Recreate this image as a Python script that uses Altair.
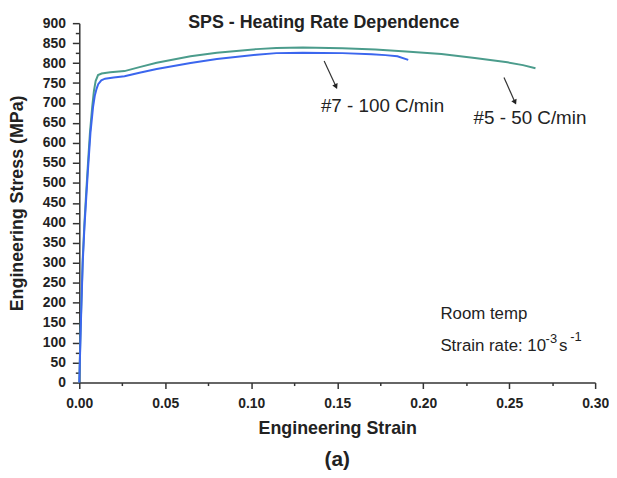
import altair as alt
import pandas as pd

# ---- data ----
strain_g = [0, 0.0005, 0.001, 0.002, 0.003, 0.004, 0.005, 0.0062, 0.0075, 0.0085, 0.0095, 0.0109,
            0.013, 0.018, 0.0263, 0.035, 0.045, 0.0647, 0.08, 0.1031, 0.1146, 0.13, 0.153, 0.1722,
            0.19, 0.2106, 0.23, 0.249, 0.258, 0.2653]
stress_g = [0, 90, 170, 310, 400, 475, 545, 626, 690, 730, 755, 770,
            774, 777, 780, 790, 801, 817, 826, 835, 838, 839, 837, 834,
            829, 823, 813, 802, 795, 787]

strain_b = [0, 0.0005, 0.001, 0.002, 0.003, 0.004, 0.005, 0.0065, 0.008, 0.009, 0.010, 0.011,
            0.0128, 0.015, 0.02, 0.0263, 0.035, 0.045, 0.0647, 0.08, 0.1031, 0.1146, 0.13, 0.153,
            0.17, 0.178, 0.185, 0.1913]
stress_b = [0, 80, 160, 300, 390, 460, 530, 626, 690, 718, 735, 747,
            757, 761, 764, 767, 776, 785, 800, 810, 821, 825, 826, 825,
            822, 820, 817, 808]

series_names = ["#5 - 50 C/min", "#7 - 100 C/min"]
series_colors = ["#4b9c8c", "#3b66ee"]

x_ticks = [0.0, 0.025, 0.05, 0.075, 0.10, 0.125, 0.15, 0.175, 0.20, 0.225, 0.25, 0.275, 0.30]
y_ticks = list(range(0, 901, 25))

label_texts = ["#7 - 100 C/min", "#5 - 50 C/min"]
label_strain = [0.1405, 0.2293]
label_stress = [677, 648]

arrow_strain = [0.1424, 0.2470]
arrow_stress = [805, 764]
arrow_strain2 = [0.1491, 0.2532]
arrow_stress2 = [743, 704]

note_texts = ["Room temp", "Strain rate: 10", "s"]
note_strain = [0.2100, 0.2100, 0.2790]
note_stress = [160, 78, 78]

sup_texts = ["-3", "-1"]
sup_strain = [0.2712, 0.2855]
sup_stress = [99, 104]

title_text = ["SPS - Heating Rate Dependence"]
title_strain = [0.1422]
title_stress = [887]

FONT = "Liberation Sans"

curves = pd.concat([
    pd.DataFrame({"strain": strain_g, "stress": stress_g, "series": series_names[0],
                  "idx": list(range(len(strain_g)))}),
    pd.DataFrame({"strain": strain_b, "stress": stress_b, "series": series_names[1],
                  "idx": list(range(len(strain_b)))}),
])

x_axis = alt.Axis(
    title="Engineering Strain", values=x_ticks, format=".2f",
    labelExpr="round(datum.value*1000) % 50 === 0 ? datum.label : ''",
    tickSize={"condition": {"test": "round(datum.value*1000) % 50 === 0", "value": 6}, "value": 3},
    grid=False, labelFont=FONT, labelFontWeight="bold", labelFontSize=14, labelColor="#222",
    titleFont=FONT, titleFontWeight="bold", titleFontSize=18, titleColor="#222",
    labelPadding=8, titlePadding=9, labelOverlap=False, labelFlush=False,
    domainColor="#333", tickColor="#333", domainWidth=1.5, tickWidth=1.5,
)
y_axis = alt.Axis(
    title="Engineering Stress (MPa)", values=y_ticks,
    labelExpr="datum.value % 50 === 0 ? datum.label : ''",
    tickSize={"condition": {"test": "datum.value % 50 === 0", "value": 7}, "value": 4},
    grid=False, labelFont=FONT, labelFontWeight="bold", labelFontSize=14, labelColor="#222",
    titleFont=FONT, titleFontWeight="bold", titleFontSize=18, titleColor="#222",
    labelPadding=7, titlePadding=16, labelOverlap=False, labelFlush=False,
    domainColor="#333", tickColor="#333", domainWidth=1.5, tickWidth=1.5,
)

xs = alt.Scale(domain=[0, 0.3], nice=False, zero=False)
ys = alt.Scale(domain=[0, 900], nice=False)


def X(field):
    return alt.X(field, scale=xs, axis=x_axis, title="Engineering Strain")


def Y(field):
    return alt.Y(field, scale=ys, axis=y_axis, title="Engineering Stress (MPa)")


lines = alt.Chart(curves).mark_line(strokeWidth=2).encode(
    x=X("strain:Q"),
    y=Y("stress:Q"),
    color=alt.Color("series:N", scale=alt.Scale(domain=series_names, range=series_colors), legend=None),
    order="idx:Q",
)

labels_df = pd.DataFrame({"strain": label_strain, "stress": label_stress, "t": label_texts})
labels = alt.Chart(labels_df).mark_text(align="left", baseline="alphabetic", font=FONT,
                                        fontSize=19, color="#222").encode(
    x=X("strain:Q"), y=Y("stress:Q"), text="t:N")

arrows_df = pd.DataFrame({"strain": arrow_strain, "stress": arrow_stress,
                          "strain2": arrow_strain2, "stress2": arrow_stress2})
arrow_lines = alt.Chart(arrows_df).mark_rule(color="#333", strokeWidth=1.2).encode(
    x=X("strain:Q"), y=Y("stress:Q"), x2="strain2:Q", y2="stress2:Q")
arrow_heads = alt.Chart(arrows_df).mark_point(shape="triangle", filled=True, size=35, angle=155,
                                              color="#222", opacity=1).encode(
    x=X("strain2:Q"), y=Y("stress2:Q"))

notes_df = pd.DataFrame({"strain": note_strain, "stress": note_stress, "t": note_texts})
notes = alt.Chart(notes_df).mark_text(align="left", baseline="alphabetic", font=FONT,
                                      fontSize=17, color="#222").encode(
    x=X("strain:Q"), y=Y("stress:Q"), text="t:N")

sup_df = pd.DataFrame({"strain": sup_strain, "stress": sup_stress, "t": sup_texts})
sups = alt.Chart(sup_df).mark_text(align="left", baseline="alphabetic", font=FONT,
                                   fontSize=13, color="#222").encode(
    x=X("strain:Q"), y=Y("stress:Q"), text="t:N")

title_df = pd.DataFrame({"strain": title_strain, "stress": title_stress, "t": title_text})
title = alt.Chart(title_df).mark_text(align="center", baseline="alphabetic", font=FONT,
                                      fontSize=18, fontWeight="bold", color="#222").encode(
    x=X("strain:Q"), y=Y("stress:Q"), text="t:N")

chart = alt.layer(lines, arrow_lines, arrow_heads, labels, notes, sups, title).properties(
    width=521, height=363,
    padding={"left": 0, "top": 4, "right": 0, "bottom": 0},
    title=alt.TitleParams("(a)", orient="bottom", fontSize=21, fontWeight="bold", font=FONT,
                          color="#222", offset=12, anchor="middle", frame="group"),
).configure_view(stroke=None).configure_axis(labelOverlap=False)

chart.save("out.html", embed_options={"renderer": "svg", "actions": False})
